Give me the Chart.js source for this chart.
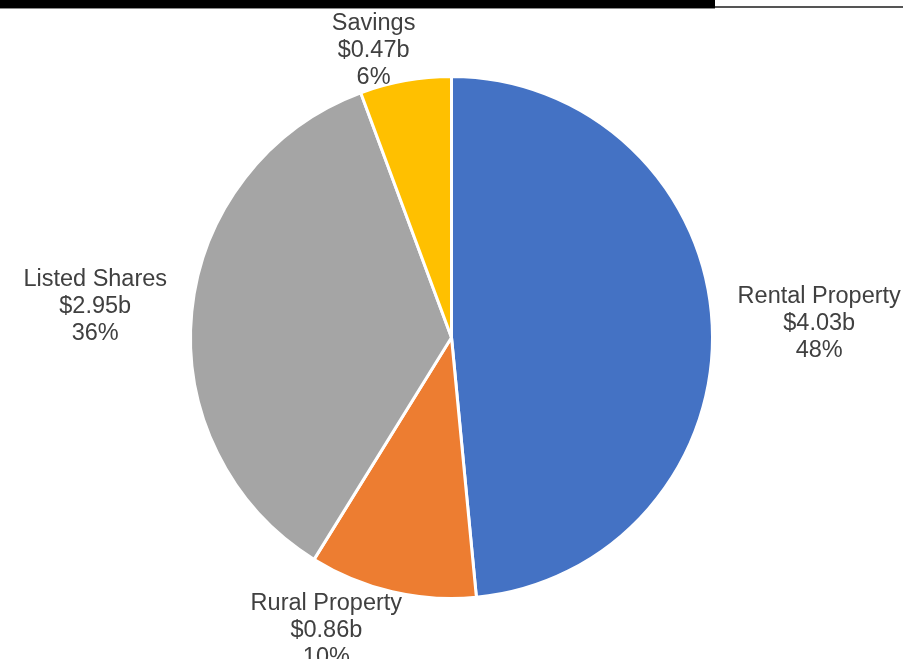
<!DOCTYPE html>
<html>
<head>
<meta charset="utf-8">
<script src="https://cdn.jsdelivr.net/npm/chart.js@4/dist/chart.umd.min.js"></script>
<style>
  html, body { margin: 0; padding: 0; background: #fff; }
  #wrap { position: relative; width: 903px; height: 659px; overflow: hidden; }
</style>
</head>
<body>
<div id="wrap"><canvas id="chart" width="903" height="659"></canvas></div>
<script>
// data
const categories = ['Rental Property', 'Rural Property', 'Listed Shares', 'Savings'];
const amounts = [4.03, 0.86, 2.953, 0.47];   // $ billions
const sliceColors = ['#4472C4', '#ED7D31', '#A5A5A5', '#FFC000'];

// where each label sits: distance from centre (x radius) and angle nudge (deg)
const labelDist = [1.41, 1.22, 1.37, 1.14];
const labelTurn = [0.5, 10, -0.8, -5];

const total = amounts.reduce((a, b) => a + b, 0);

const topBar = {
  id: 'topBar',
  afterDraw(chart) {
    const ctx = chart.ctx;
    ctx.save();
    ctx.fillStyle = '#000';
    ctx.fillRect(0, 0, 715, 8);
    ctx.fillStyle = '#8c8c8c';
    ctx.fillRect(0, 8, 715, 1);
    ctx.fillStyle = '#555';
    ctx.fillRect(715, 6, 188, 2);
    ctx.restore();
  }
};

const sliceLabels = {
  id: 'sliceLabels',
  afterDatasetsDraw(chart) {
    const ctx = chart.ctx;
    const meta = chart.getDatasetMeta(0);
    ctx.save();
    ctx.font = '23.5px "Liberation Sans", Arial, sans-serif';
    ctx.fillStyle = '#404040';
    ctx.textAlign = 'center';
    ctx.textBaseline = 'middle';
    meta.data.forEach((arc, i) => {
      const p = arc.getProps(['x', 'y', 'startAngle', 'endAngle', 'outerRadius'], true);
      const mid = (p.startAngle + p.endAngle) / 2 + labelTurn[i] * Math.PI / 180;
      const d = p.outerRadius * labelDist[i];
      const cx = p.x + Math.cos(mid) * d;
      const cy = p.y + Math.sin(mid) * d;
      const pct = Math.round(amounts[i] / total * 100);
      const lines = [categories[i], '$' + amounts[i].toFixed(2) + 'b', pct + '%'];
      lines.forEach((t, k) => ctx.fillText(t, cx, cy + (k - 1) * 27));
    });
    ctx.restore();
  }
};

new Chart(document.getElementById('chart'), {
  type: 'pie',
  data: {
    labels: categories,
    datasets: [{
      data: amounts,
      backgroundColor: sliceColors,
      borderColor: '#ffffff',
      borderWidth: 3
    }]
  },
  options: {
    responsive: false,
    animation: false,
    layout: { padding: { top: 75, bottom: 59, left: 0, right: 0 } },
    plugins: {
      legend: { display: false },
      tooltip: { enabled: false }
    }
  },
  plugins: [topBar, sliceLabels]
});
</script>
</body>
</html>
